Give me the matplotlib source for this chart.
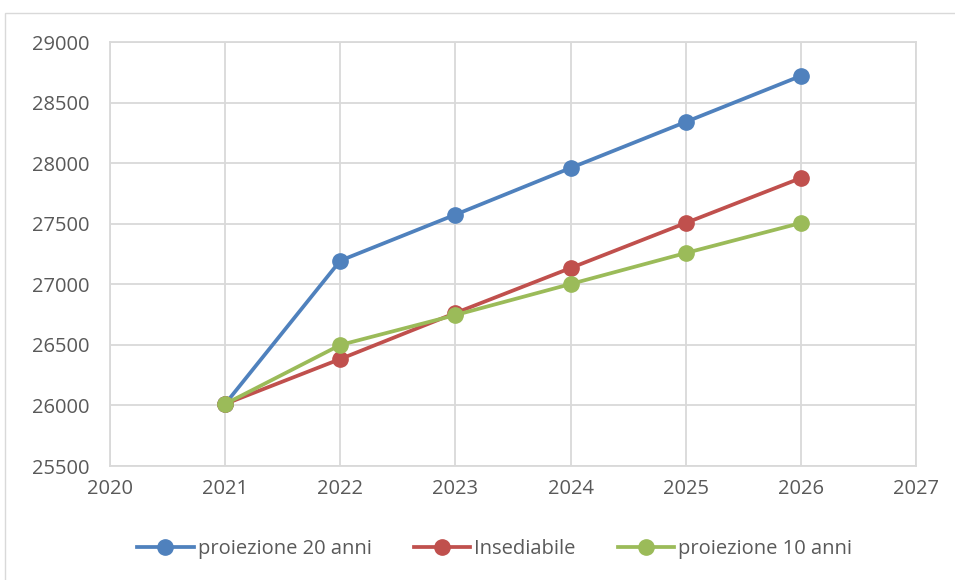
import matplotlib
matplotlib.use("Agg")
from matplotlib import pyplot as plt
from matplotlib.patches import Rectangle

plt.rcParams['font.family'] = ['Open Sans', 'DejaVu Sans']

years = [2021, 2022, 2023, 2024, 2025, 2026]
proiezione_20 = [26012, 27195, 27575, 27960, 28340, 28720]
insediabile = [26012, 26383, 26763, 27134, 27506, 27877]
proiezione_10 = [26012, 26499, 26746, 27002, 27258, 27506]

xticks = [2020, 2021, 2022, 2023, 2024, 2025, 2026, 2027]
yticks = [25500, 26000, 26500, 27000, 27500, 28000, 28500, 29000]

fig = plt.figure(figsize=(9.55, 5.8), dpi=100)
ax = fig.add_axes([110/955, 1-466/580, 806/955, 424/580])

fig.patches.append(Rectangle((5/955, -0.1), 1.2, 1-13/580+0.1, transform=fig.transFigure,
                             fill=False, edgecolor='#d9d9d9', linewidth=1.0))

ax.plot(years, proiezione_20, color='#4f81bd', lw=2.7, marker='o', ms=11, label='proiezione 20 anni')
ax.plot(years, insediabile, color='#c0504d', lw=2.7, marker='o', ms=11, label='Insediabile')
ax.plot(years, proiezione_10, color='#9bbb59', lw=2.7, marker='o', ms=11, label='proiezione 10 anni')

ax.set_xlim(2020, 2027)
ax.set_ylim(25500, 29000)
ax.set_xticks(xticks)
ax.set_yticks(yticks)
ax.grid(True, color='#d9d9d9', lw=1.3)
ax.set_axisbelow(True)
for s in ax.spines.values():
    s.set_color('#d9d9d9')
    s.set_linewidth(1.3)
ax.tick_params(length=0, labelsize=14.5, colors='#595959')
ax.tick_params(axis='y', pad=15)
ax.tick_params(axis='x', pad=9)

fig.legend(loc='center', bbox_to_anchor=(0.518, 1-549/580), ncol=3, frameon=False,
           fontsize=14.5, labelcolor='#595959', handlelength=2.8, handletextpad=0.2,
           columnspacing=2.1)

plt.savefig("out.png", dpi=100)
